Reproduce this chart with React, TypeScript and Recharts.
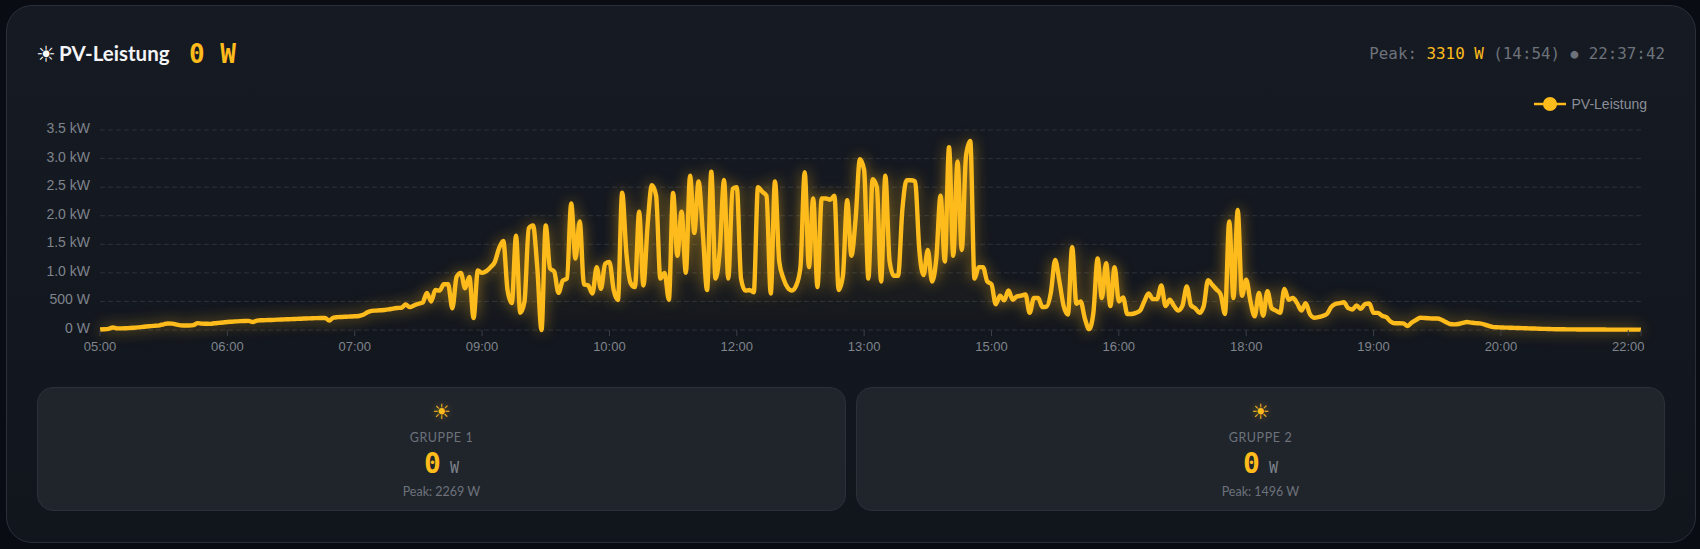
import React from "react";
import { ComposedChart, Area, XAxis, YAxis, CartesianGrid, Legend } from "recharts";

const amber = "#febc1c";
const sans = "Lato, 'Noto Sans', sans-serif";
const mono = "'DejaVu Sans Mono', monospace";
const axisFont = "'Liberation Sans', Arial, sans-serif";

// watts, one array per labelled x tick, 30 samples each
const from0500 = [10, 12, 20, 45, 28, 28, 30, 35, 40, 45, 55, 62, 68, 75, 82, 100, 115, 112, 95, 82, 78, 78, 85, 120, 112, 110, 108, 118, 125, 132];
const from0600 = [140, 145, 150, 155, 158, 160, 140, 165, 170, 172, 175, 178, 182, 185, 188, 190, 193, 196, 200, 203, 206, 208, 210, 212, 165, 218, 225, 228, 232, 236];
const from0700 = [240, 245, 265, 310, 335, 340, 345, 350, 360, 375, 385, 390, 445, 400, 430, 460, 480, 650, 500, 700, 690, 800, 800, 380, 930, 1000, 730, 930, 210, 1040];
const from0900 = [1000, 1030, 1100, 1190, 1430, 1560, 700, 470, 1650, 300, 500, 1780, 1830, 1100, 0, 1830, 1080, 1020, 650, 860, 900, 2216, 1250, 1900, 800, 780, 640, 1100, 720, 1160];
const from1000 = [1190, 700, 525, 2402, 1340, 820, 750, 2070, 780, 1836, 2536, 2350, 900, 1000, 530, 2400, 1300, 2070, 1000, 2700, 1700, 2600, 1700, 700, 2770, 900, 1400, 2624, 900, 2470];
const from1200 = [2500, 900, 690, 700, 660, 2500, 2420, 2350, 640, 2600, 1200, 900, 740, 690, 780, 1100, 2760, 1100, 2300, 750, 2300, 2300, 2280, 2350, 700, 950, 2270, 1300, 1950, 2990];
const from1300 = [2800, 900, 2640, 2500, 850, 2700, 1200, 950, 950, 2100, 2620, 2620, 2600, 1400, 960, 1400, 850, 1250, 2350, 1200, 3200, 1300, 2950, 1400, 3050, 3310, 900, 1100, 1100, 850];
const from1500 = [800, 450, 600, 520, 690, 530, 590, 600, 620, 300, 560, 560, 400, 410, 660, 1224, 850, 420, 270, 1450, 460, 500, 200, 15, 300, 1250, 560, 1170, 420, 1100];
const from1600 = [500, 570, 280, 280, 300, 340, 500, 640, 540, 540, 780, 420, 530, 420, 340, 430, 760, 430, 380, 300, 420, 870, 790, 710, 620, 280, 1900, 560, 2100, 600];
const from1800 = [880, 500, 240, 650, 250, 680, 380, 340, 300, 720, 530, 560, 470, 340, 470, 280, 215, 225, 245, 280, 400, 455, 470, 485, 385, 360, 430, 370, 455, 465];
const from1900 = [300, 300, 250, 225, 150, 118, 118, 115, 70, 130, 175, 215, 210, 205, 200, 200, 180, 140, 105, 98, 105, 125, 140, 130, 120, 115, 100, 75, 55, 48];
const from2000 = [45, 42, 40, 38, 35, 32, 30, 27, 25, 22, 20, 18, 15, 13, 12, 12, 11, 11, 10, 10, 9, 9, 8, 8, 8, 7, 7, 7, 7, 7];
const from2200 = [6, 6, 6, 6];

const tickLabels = ["05:00", "06:00", "07:00", "09:00", "10:00", "12:00", "13:00", "15:00", "16:00", "18:00", "19:00", "20:00", "22:00"];
const yTicks = [0, 500, 1000, 1500, 2000, 2500, 3000, 3500];
const seriesName = "PV-Leistung";

const groups = [
  { name: "GRUPPE 1", peak: 2269, now: 0 },
  { name: "GRUPPE 2", peak: 1496, now: 0 },
];

const chartData = [
  ...from0500, ...from0600, ...from0700, ...from0900, ...from1000, ...from1200, ...from1300,
  ...from1500, ...from1600, ...from1800, ...from1900, ...from2000, ...from2200,
].map((w, i) => ({ i, w }));

const xTicks = [...tickLabels.map((_, n) => n * 30), chartData.length - 1];

function formatWatts(v: number) {
  return v >= 1000 ? `${(v / 1000).toFixed(1)} kW` : `${v} W`;
}

function LegendBox({ payload }: any) {
  const item = payload && payload[0];
  return (
    <div style={{ display: "flex", alignItems: "center", justifyContent: "flex-end", fontFamily: axisFont, fontSize: 14, color: "#8b8f98" }}>
      <svg width={32} height={16} style={{ marginRight: 6 }}>
        <line x1={0} x2={32} y1={8} y2={8} stroke={amber} strokeWidth={2.5} />
        <circle cx={16} cy={8} r={7} fill={amber} />
      </svg>
      <span>{item ? item.value : seriesName}</span>
    </div>
  );
}

function GroupCard({ name, peak, now, left }: { name: string; peak: number; now: number; left: number }) {
  return (
    <div style={{ position: "absolute", left, top: 387, width: 809, height: 124, boxSizing: "border-box", background: "#20252c", border: "1px solid #2c3139", borderRadius: 16, textAlign: "center" }}>
      <div style={{ position: "absolute", top: 10, width: "100%", fontSize: 21, lineHeight: "28px", color: amber, fontFamily: "'DejaVu Sans'", textShadow: "0 0 8px rgba(254,188,28,.4)" }}>☀</div>
      <div style={{ position: "absolute", top: 42, width: "100%", fontSize: 12.5, lineHeight: "16px", letterSpacing: 0.6, color: "#6d727b", fontFamily: sans }}>{name}</div>
      <div style={{ position: "absolute", top: 57, width: "100%", lineHeight: "38px", fontFamily: mono, whiteSpace: "nowrap" }}>
        <span style={{ fontSize: 28, fontWeight: 700, color: amber }}>{now}</span>
        <span style={{ fontSize: 15, color: "#7d828b", marginLeft: 9 }}>W</span>
      </div>
      <div style={{ position: "absolute", top: 96, width: "100%", fontSize: 12.5, lineHeight: "16px", color: "#6d727b", fontFamily: sans }}>Peak: {peak} W</div>
    </div>
  );
}

export default function App() {
  return (
    <div style={{ position: "fixed", left: 0, top: 0, width: 1700, height: 549, background: "#090c13", overflow: "hidden" }}>
      <div style={{ position: "absolute", left: 6, top: 5, width: 1690, height: 538, boxSizing: "border-box", borderRadius: 26, border: "1px solid #2a2f38", background: "linear-gradient(180deg,#161a22,#11151c)" }} />

      <div style={{ position: "absolute", left: 36, top: 41, color: "#fff", fontFamily: "'DejaVu Sans'", fontWeight: 700, fontSize: 22, lineHeight: "28px" }}>☀</div>
      <div style={{ position: "absolute", left: 59, top: 39, color: "#f3f4f6", fontFamily: sans, fontWeight: 700, fontSize: 20.5, lineHeight: "28px" }}>{seriesName}</div>
      <div style={{ position: "absolute", left: 189, top: 36, color: amber, fontFamily: mono, fontWeight: 700, fontSize: 26, lineHeight: "36px", whiteSpace: "pre" }}>0 W</div>
      <div style={{ position: "absolute", right: 35, top: 42, color: "#6d727b", fontFamily: mono, fontSize: 15.85, lineHeight: "24px", whiteSpace: "pre" }}>
        Peak: <span style={{ color: amber }}>3310 W</span> (14:54) <span style={{ display: "inline-block", width: 9.54, textAlign: "center", fontSize: 13, position: "relative", top: -1.5 }}>●</span> 22:37:42
      </div>

      <div style={{ position: "absolute", left: 0, top: 0 }}>
        <ComposedChart width={1700} height={360} data={chartData} margin={{ top: 110, right: 59, bottom: 0, left: 10 }}>
          <defs>
            <linearGradient id="pvFill" x1="0" y1="0" x2="0" y2="1">
              <stop offset="0%" stopColor={amber} stopOpacity={0.14} />
              <stop offset="100%" stopColor={amber} stopOpacity={0.01} />
            </linearGradient>
          </defs>
          <CartesianGrid vertical={false} stroke="#2d323b" strokeDasharray="5 3" />
          <XAxis
            dataKey="i"
            type="category"
            ticks={xTicks}
            interval={0}
            axisLine={false}
            tickLine={{ stroke: "#3a3f48" }}
            tickSize={6}
            tickMargin={6}
            tick={{ fill: "#7f848d", fontSize: 13, fontFamily: axisFont }}
            tickFormatter={(i: number) => tickLabels[i / 30] ?? ""}
            height={30}
          />
          <YAxis
            domain={[0, 3500]}
            ticks={yTicks}
            width={90}
            axisLine={false}
            tickLine={false}
            tickSize={0}
            tickMargin={10}
            tick={{ fill: "#7f848d", fontSize: 14, fontFamily: axisFont, dy: -2 }}
            tickFormatter={formatWatts}
          />
          <Legend
            verticalAlign="top"
            align="right"
            content={LegendBox}
            wrapperStyle={{ position: "absolute", top: 96, right: 53, left: "auto", width: 200, height: 20 }}
          />
          <Area
            dataKey="w"
            name={seriesName}
            type="monotone"
            stroke={amber}
            strokeWidth={4.4}
            strokeLinejoin="round"
            fill="url(#pvFill)"
            dot={false}
            activeDot={false}
            isAnimationActive={false}
            style={{ filter: "drop-shadow(0 0 7px rgba(254,188,28,.55))" }}
          />
        </ComposedChart>
      </div>

      {groups.map((g, n) => (
        <GroupCard key={g.name} {...g} left={n === 0 ? 37 : 856} />
      ))}
    </div>
  );
}
